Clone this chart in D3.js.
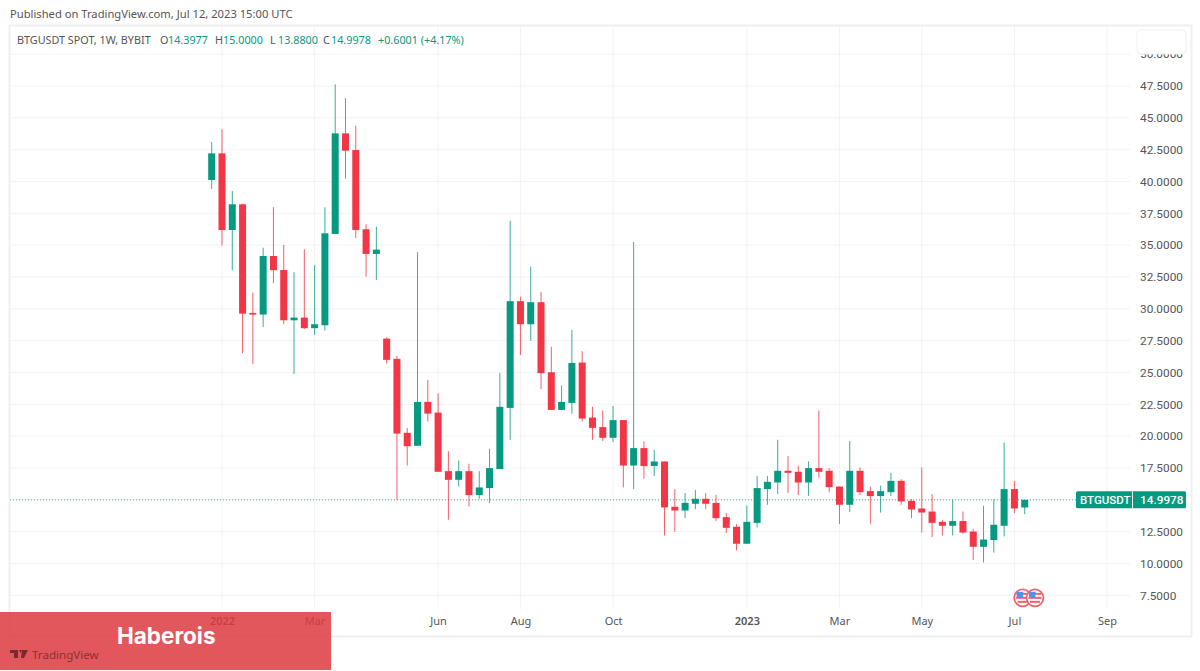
<!DOCTYPE html>
<html>
<head>
<meta charset="utf-8">
<title>BTGUSDT</title>
<script src="https://cdnjs.cloudflare.com/ajax/libs/d3/7.8.5/d3.min.js"></script>
<style>
  html, body { margin: 0; padding: 0; background: #fff; }
  svg { display: block; }
</style>
</head>
<body>
<div id="chart"></div>
<script>
// weekly candles
var opens = [40.12,42.21,36.19,38.21,29.68,29.55,34.15,33.05,29.10,29.31,28.48,28.71,35.88,43.78,42.47,36.25,
  34.31,27.66,26.07,20.26,19.24,22.69,21.85,17.25,16.57,17.25,15.37,15.92,17.41,22.22,30.60,28.79,30.52,25.02,
  22.06,22.61,25.78,21.46,20.71,19.87,21.26,17.69,19.06,17.65,18.01,14.45,14.16,14.69,15.08,14.76,13.64,12.88,
  11.55,13.19,15.84,16.36,17.28,17.20,16.36,17.49,17.28,16.04,14.61,17.28,15.68,15.29,15.60,16.49,14.92,14.32,
  14.08,13.27,12.96,13.33,12.51,11.31,11.84,12.96,15.84,14.3977];
var highs = [43.10,44.10,39.25,38.25,31.27,34.80,37.97,35.02,32.87,34.68,33.45,37.97,47.63,46.55,44.38,36.64,
  36.45,27.77,26.30,20.63,34.44,24.42,23.37,18.82,18.08,17.83,17.25,19.00,24.95,36.92,30.96,33.31,31.33,27.03,
  23.97,28.34,26.67,22.30,22.01,22.38,21.26,35.25,19.58,18.92,18.01,15.84,15.53,15.78,15.53,15.39,13.96,13.09,
  14.55,16.88,16.88,19.71,18.45,17.69,18.01,22.01,17.49,16.04,19.61,17.54,16.04,16.12,17.10,16.62,15.05,17.54,
  15.45,13.43,15.00,14.08,12.70,14.53,15.05,19.50,16.49,15.0000];
var lows = [39.41,34.96,33.03,26.51,25.68,28.56,32.01,28.79,24.89,28.40,27.95,28.29,35.88,40.22,35.56,32.53,
  32.27,25.70,15.00,17.69,19.24,21.15,17.20,13.43,16.04,14.47,15.08,14.74,17.41,19.71,26.38,27.48,23.69,22.06,
  22.06,21.75,21.15,19.71,19.61,19.53,15.97,15.84,16.65,16.88,12.20,12.49,13.56,14.27,14.27,13.33,12.39,11.02,
  11.55,12.83,14.61,15.45,15.53,15.37,15.31,16.73,15.60,13.09,14.03,15.37,13.12,14.00,15.29,14.61,13.56,12.43,
  12.07,12.20,12.20,12.33,10.27,10.08,10.86,12.12,13.96,13.8800];
var closes = [42.21,36.19,38.21,29.62,29.55,34.15,33.03,29.10,29.31,28.48,28.79,35.93,43.78,42.42,36.19,34.31,
  34.65,25.99,20.20,19.21,22.69,21.77,17.20,16.57,17.25,15.37,15.97,17.49,22.30,30.60,28.79,30.52,24.95,22.06,
  22.69,25.75,21.38,20.65,19.87,21.26,17.69,19.06,17.65,18.01,14.40,14.16,14.76,15.08,14.69,13.56,12.80,11.55,
  13.27,15.92,16.41,17.28,17.12,16.36,17.49,17.20,16.00,14.61,17.28,15.60,15.29,15.68,16.49,14.87,14.24,14.00,
  13.19,12.96,13.33,12.43,11.31,11.88,13.04,15.84,14.32,14.9978];

var priceTicks = [7.5,10,12.5,15,17.5,20,22.5,25,27.5,30,32.5,35,37.5,40,42.5,45,47.5,50];
var timeTickIndex = [1,10,22,30,39,52,61,69,78,87];
var timeTickLabels = ["2022","Mar","Jun","Aug","Oct","2023","Mar","May","Jul","Sep"];
var eventIndex = [78.8, 80];
var lastPrice = 14.9978;

var width = 1200, height = 671;
var green = "#089981", red = "#f23645", gridColor = "#f3f3f3", textColor = "#555";
var labelFont = '"Noto Sans", sans-serif';

var x = d3.scaleLinear().domain([0, 79]).range([211.7, 1024.7]);
var y = d3.scaleLinear().domain([7.5, 47.5]).range([595.3, 86]);

var svg = d3.select("#chart").append("svg")
  .attr("width", width)
  .attr("height", height)
  .attr("font-family", labelFont);

svg.append("text")
  .attr("x", 10).attr("y", 18)
  .attr("font-size", 11.2)
  .attr("fill", "#555")
  .text("Published on TradingView.com, Jul 12, 2023 15:00 UTC");

// grid
svg.append("g").selectAll("line")
  .data(priceTicks)
  .enter().append("line")
  .attr("x1", 10).attr("x2", 1130)
  .attr("y1", function(d) { return y(d); })
  .attr("y2", function(d) { return y(d); })
  .attr("stroke", gridColor);

svg.append("g").selectAll("line")
  .data(timeTickIndex)
  .enter().append("line")
  .attr("x1", function(d) { return x(d); })
  .attr("x2", function(d) { return x(d); })
  .attr("y1", 26).attr("y2", 608)
  .attr("stroke", gridColor);

svg.append("rect")
  .attr("x", 9.5).attr("y", 25.5)
  .attr("width", 1182).attr("height", 611)
  .attr("fill", "none")
  .attr("stroke", "#efefef")
  .attr("stroke-width", 2);

// axes
var priceAxis = d3.axisRight(y)
  .tickValues(priceTicks)
  .tickSize(0)
  .tickFormat(d3.format(".4f"));

var priceG = svg.append("g")
  .attr("transform", "translate(1140,0)")
  .call(priceAxis);
priceG.select(".domain").remove();
priceG.selectAll("text")
  .attr("x", 0)
  .attr("font-family", "Roboto")
  .attr("font-size", 11.8)
  .attr("fill", textColor);

var timeAxis = d3.axisBottom(x)
  .tickValues(timeTickIndex)
  .tickSize(0)
  .tickFormat(function(d, i) { return timeTickLabels[i]; });

var timeG = svg.append("g")
  .attr("transform", "translate(0,617.5)")
  .call(timeAxis);
timeG.select(".domain").remove();
timeG.selectAll("text")
  .attr("y", 0)
  .attr("dy", "0.71em")
  .attr("font-family", labelFont)
  .attr("font-size", 11)
  .attr("fill", textColor)
  .attr("font-weight", function(d, i) { return timeTickLabels[i].length == 4 ? 600 : 400; });

// last price line
svg.append("line")
  .attr("x1", 10).attr("x2", 1076)
  .attr("y1", y(lastPrice)).attr("y2", y(lastPrice))
  .attr("stroke", green)
  .attr("stroke-opacity", 0.75)
  .attr("stroke-dasharray", "1 2");

// candles
var candles = svg.append("g").selectAll("g")
  .data(opens)
  .enter().append("g");

candles.append("line")
  .attr("x1", function(d, i) { return x(i); })
  .attr("x2", function(d, i) { return x(i); })
  .attr("y1", function(d, i) { return y(highs[i]); })
  .attr("y2", function(d, i) { return y(lows[i]); })
  .attr("stroke", function(d, i) { return closes[i] >= opens[i] ? green : red; })
  .attr("stroke-opacity", 0.8)
  .attr("stroke-width", 1);

candles.append("rect")
  .attr("x", function(d, i) { return x(i) - 3.5; })
  .attr("width", 7)
  .attr("y", function(d, i) { return y(Math.max(opens[i], closes[i])); })
  .attr("height", function(d, i) { return Math.max(1.5, Math.abs(y(opens[i]) - y(closes[i]))); })
  .attr("fill", function(d, i) { return closes[i] >= opens[i] ? green : red; });

// legend line
svg.append("text")
  .attr("x", 17).attr("y", 44)
  .attr("font-size", 10.8)
  .attr("fill", "#555")
  .text("BTGUSDT SPOT, 1W, BYBIT");

var legendLabels = ["O", "H", "L", "C"];
var legendLabelX = [160, 215, 270, 323];
var legendValues = [opens[79], highs[79], lows[79], closes[79]];

legendLabels.forEach(function(label, i) {
  svg.append("text")
    .attr("x", legendLabelX[i]).attr("y", 44)
    .attr("font-size", 10.8)
    .attr("fill", "#555")
    .text(label);
  svg.append("text")
    .attr("x", legendLabelX[i] + 8).attr("y", 44)
    .attr("font-size", 10.8)
    .attr("fill", green)
    .text(legendValues[i].toFixed(4));
});

svg.append("text")
  .attr("x", 378).attr("y", 44)
  .attr("font-size", 10.8)
  .attr("fill", green)
  .text("+0.6001 (+4.17%)");

// empty button sitting over the top price label
svg.append("rect")
  .attr("x", 1137).attr("y", 30)
  .attr("width", 49).attr("height", 24)
  .attr("rx", 4)
  .attr("fill", "#fff")
  .attr("stroke", "#f0f0f0");

// last price tag
var tagY = y(lastPrice) - 8.5;
svg.append("rect")
  .attr("x", 1076).attr("y", tagY)
  .attr("width", 110).attr("height", 17)
  .attr("rx", 1.5)
  .attr("fill", green);
svg.append("line")
  .attr("x1", 1132.5).attr("x2", 1132.5)
  .attr("y1", tagY).attr("y2", tagY + 17)
  .attr("stroke", "#fff");
svg.append("text")
  .attr("x", 1080).attr("y", tagY + 12.5)
  .attr("font-family", "Roboto")
  .attr("font-size", 11.5)
  .attr("font-weight", 500)
  .attr("fill", "#fff")
  .text("BTGUSDT");
svg.append("text")
  .attr("x", 1140).attr("y", tagY + 12.5)
  .attr("font-family", "Roboto")
  .attr("font-size", 11.8)
  .attr("font-weight", 500)
  .attr("fill", "#fff")
  .text(lastPrice.toFixed(4));

// event flags
var flags = svg.append("g").selectAll("g")
  .data(eventIndex)
  .enter().append("g")
  .attr("transform", function(d) { return "translate(" + x(d) + "," + y(7.3) + ")"; });

flags.append("circle")
  .attr("r", 8.5)
  .attr("fill", "#fff")
  .attr("stroke", "#f0636b")
  .attr("stroke-width", 1.8);
flags.append("rect")
  .attr("x", -6).attr("y", -5).attr("width", 12).attr("height", 2)
  .attr("fill", "#f0636b");
flags.append("rect")
  .attr("x", -6.5).attr("y", -1).attr("width", 13).attr("height", 2)
  .attr("fill", "#f0636b");
flags.append("rect")
  .attr("x", -5).attr("y", 3).attr("width", 10).attr("height", 2)
  .attr("fill", "#f0636b");
flags.append("rect")
  .attr("x", -6).attr("y", -6).attr("width", 6.5).attr("height", 6)
  .attr("fill", "#5b8ee6");

// banner over the bottom left corner, the axis shows through it
svg.append("rect")
  .attr("x", 0).attr("y", 612)
  .attr("width", 331).attr("height", 58)
  .attr("fill", "#dd3a3f")
  .attr("fill-opacity", 0.85);

svg.append("text")
  .attr("x", 117).attr("y", 644)
  .attr("font-family", "Inter")
  .attr("font-size", 22.5)
  .attr("font-weight", 700)
  .attr("fill", "#fff")
  .text("Haberois");

svg.append("path")
  .attr("d", "M10 650h8v8h-4v-5h-4z M19 650h3l-1.5 3z M22 650h6l-4 8h-3z")
  .attr("fill", "#7a2a2e");

svg.append("text")
  .attr("x", 32).attr("y", 659)
  .attr("font-size", 11.6)
  .attr("fill", "#8a3236")
  .text("TradingView");
</script>
</body>
</html>
